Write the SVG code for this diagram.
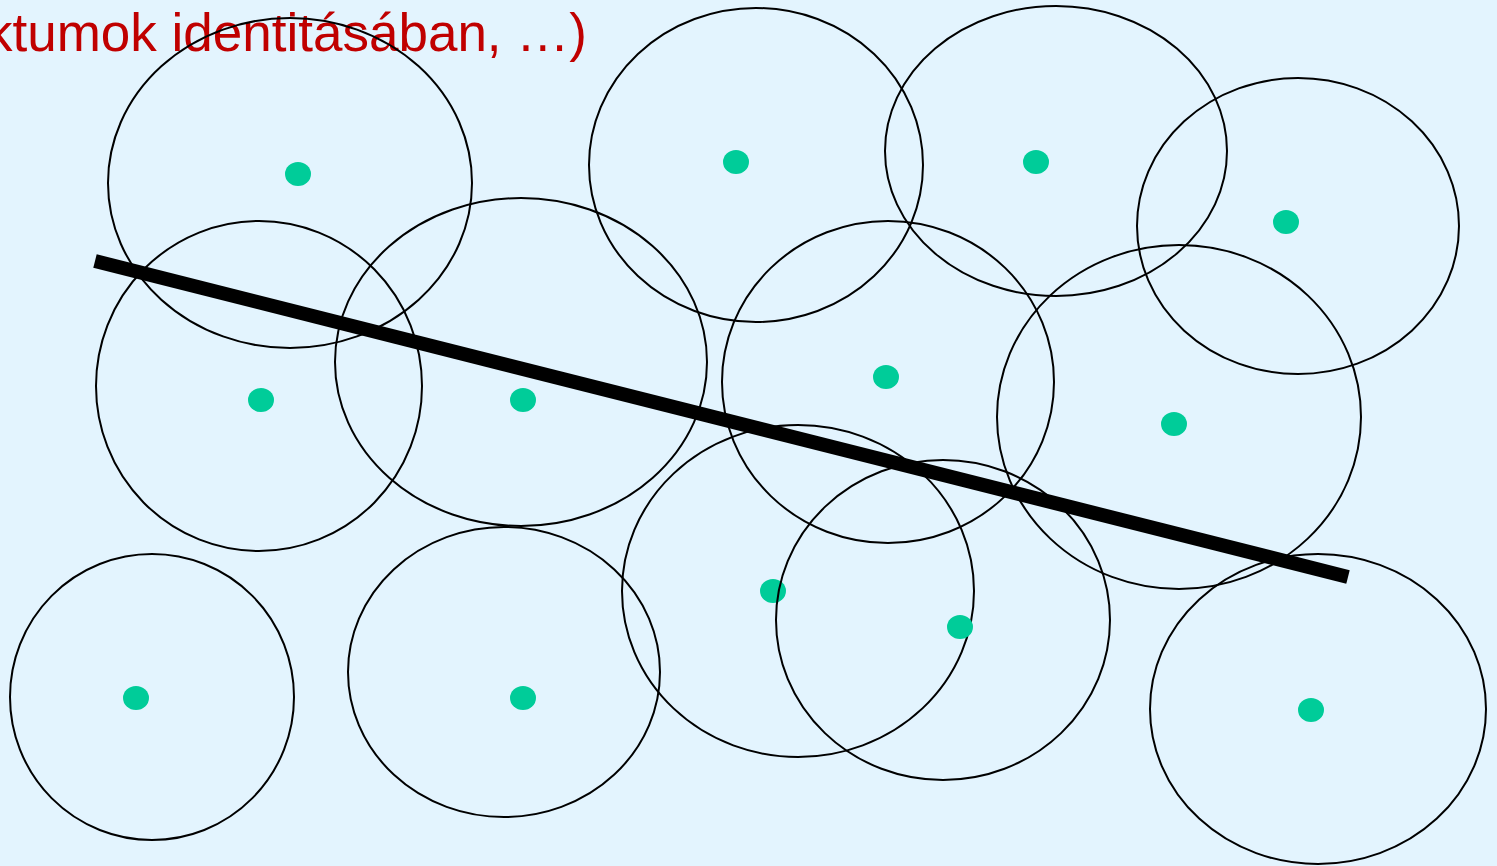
<svg xmlns="http://www.w3.org/2000/svg" width="1497" height="866" viewBox="0 0 1497 866">
<style>
.c{fill:none;stroke:#000;stroke-width:2}
.d{fill:#00CC99}
.t{font-family:"Liberation Sans",Arial,sans-serif;font-size:53px;fill:#C00000}
</style>
<rect width="1497" height="866" fill="#E3F4FE"/>
<text class="t" x="-14" y="51">ktumok identitásában, …)</text>
<g id="n1"><ellipse class="c" cx="290" cy="183" rx="182" ry="165"/><ellipse class="d" cx="298" cy="174" rx="13" ry="12"/></g>
<g id="n2"><ellipse class="c" cx="259" cy="386" rx="163" ry="165"/><ellipse class="d" cx="261" cy="400" rx="13" ry="12"/></g>
<g id="n3"><ellipse class="c" cx="521" cy="362" rx="186" ry="164"/><ellipse class="d" cx="523" cy="400" rx="13" ry="12"/></g>
<g id="n4"><ellipse class="c" cx="756" cy="165" rx="167" ry="157"/><ellipse class="d" cx="736" cy="162" rx="13" ry="12"/></g>
<g id="n5"><ellipse class="c" cx="1056" cy="151" rx="171" ry="145"/><ellipse class="d" cx="1036" cy="162" rx="13" ry="12"/></g>
<g id="n6"><ellipse class="c" cx="1298" cy="226" rx="161" ry="148"/><ellipse class="d" cx="1286" cy="222" rx="13" ry="12"/></g>
<g id="n7"><ellipse class="c" cx="888" cy="382" rx="166" ry="161"/><ellipse class="d" cx="886" cy="377" rx="13" ry="12"/></g>
<g id="n8"><ellipse class="c" cx="1179" cy="417" rx="182" ry="172"/><ellipse class="d" cx="1174" cy="424" rx="13" ry="12"/></g>
<g id="n9"><ellipse class="c" cx="152" cy="697" rx="142" ry="143"/><ellipse class="d" cx="136" cy="698" rx="13" ry="12"/></g>
<g id="n10"><ellipse class="c" cx="504" cy="672" rx="156" ry="145"/><ellipse class="d" cx="523" cy="698" rx="13" ry="12"/></g>
<g id="n11"><ellipse class="c" cx="798" cy="591" rx="176" ry="166"/><ellipse class="d" cx="773" cy="591" rx="13" ry="12"/></g>
<g id="n12"><ellipse class="c" cx="943" cy="620" rx="167" ry="160"/><ellipse class="d" cx="960" cy="627" rx="13" ry="12"/></g>
<g id="n13"><ellipse class="c" cx="1318" cy="709" rx="168" ry="155"/><ellipse class="d" cx="1311" cy="710" rx="13" ry="12"/></g>
<g id="connectors"><line x1="95" y1="261" x2="1348" y2="577" stroke="#000" stroke-width="14"/></g>
</svg>
